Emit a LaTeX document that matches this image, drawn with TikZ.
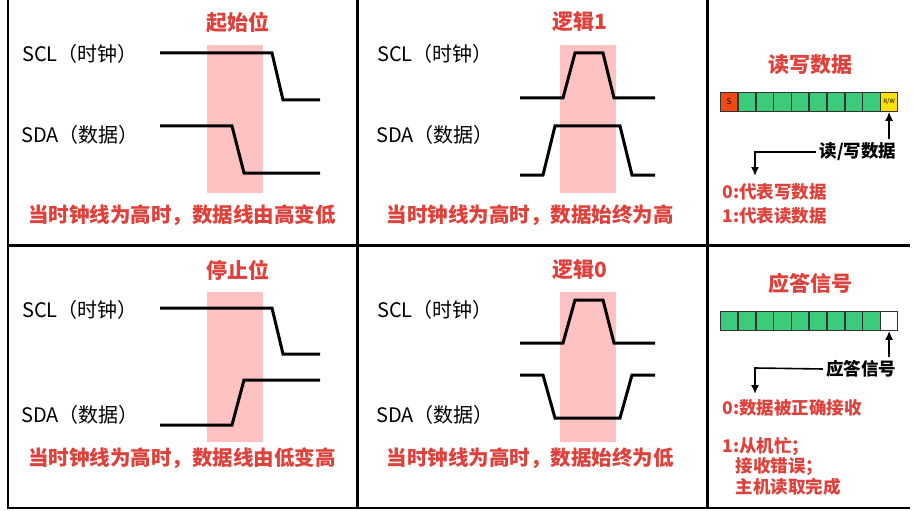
\documentclass[tikz,border=0pt]{standalone}
\usepackage{fontspec}
\setmainfont{Noto Sans CJK SC}
\usetikzlibrary{arrows.meta}
\definecolor{myred}{HTML}{E0403A}
\definecolor{mypink}{HTML}{FFC2C2}
\definecolor{mygreen}{HTML}{3CCB7A}
\definecolor{myorange}{HTML}{F04A12}
\definecolor{myyellow}{HTML}{FFE000}
\begin{document}
\begin{tikzpicture}[x=1pt,y=-1pt,
  lbl/.style={font=\fontsize{20}{20}\selectfont},
  ttl/.style={font=\fontsize{21}{21}\selectfont\bfseries, text=myred},
  captxt/.style={font=\fontsize{20.5}{20.5}\selectfont\bfseries, text=myred},
  smallred/.style={font=\fontsize{17.5}{17.5}\selectfont\bfseries, text=myred, anchor=west},
  blk/.style={font=\fontsize{17.5}{17.5}\selectfont\bfseries, anchor=east},
  sig/.style={line width=3pt, line join=miter},
  pinkbox/.style={fill=mypink, draw=none},
  cell/.style={draw=black!80, line width=0.6pt, minimum width=17.2pt, minimum height=19pt, inner sep=0pt, anchor=west},
  arr/.style={line width=1.6pt,-{Latex[length=9pt,width=8pt]}}]
\useasboundingbox (0,0) rectangle (914,511);
\fill[white] (0,0) rectangle (914,511);
% frame
\draw[line width=3pt] (357,0) -- (357,507);
\draw[line width=3pt] (707,0) -- (707,507);
\draw[line width=3pt] (8,245) -- (910,245);
\draw[line width=2pt] (8,0) -- (8,508) -- (910,508);
% panel 1
\fill[pinkbox] (207,45) rectangle (263,193);
\node[ttl] (t1) at (238,22) {起始位};
\node[lbl] (l1a) at (80,54) {SCL（时钟）};
\node[lbl] (l1b) at (80,135) {SDA（数据）};
\draw[sig] (160,53) -- (272,53) -- (283,100) -- (320,100);
\draw[sig] (160,126) -- (232,126) -- (244,173) -- (320,173);
\node[captxt] (c1) at (182,215) {当时钟线为高时，数据线由高变低};
% panel 2
\fill[pinkbox] (560,45) rectangle (616,193);
\node[ttl] (t2) at (580,22) {逻辑1};
\node[lbl] (l2a) at (435,54) {SCL（时钟）};
\node[lbl] (l2b) at (435,135) {SDA（数据）};
\draw[sig] (520,98) -- (563,98) -- (575,53) -- (603,53) -- (614,98) -- (655,98);
\draw[sig] (520,175) -- (543,175) -- (555,126) -- (620,126) -- (632,175) -- (655,175);
\node[captxt] (c2) at (530,215) {当时钟线为高时，数据始终为高};
% panel 3
\fill[pinkbox] (207,292) rectangle (263,442);
\node[ttl] (t3) at (238,270) {停止位};
\node[lbl] (l3a) at (80,310) {SCL（时钟）};
\node[lbl] (l3b) at (80,415) {SDA（数据）};
\draw[sig] (160,308) -- (272,308) -- (283,354) -- (320,354);
\draw[sig] (160,425) -- (232,425) -- (244,380) -- (320,380);
\node[captxt] (c3) at (182,458) {当时钟线为高时，数据线由低变高};
% panel 4
\fill[pinkbox] (560,292) rectangle (616,442);
\node[ttl] (t4) at (580,270) {逻辑0};
\node[lbl] (l4a) at (435,310) {SCL（时钟）};
\node[lbl] (l4b) at (435,415) {SDA（数据）};
\draw[sig] (520,343) -- (563,343) -- (575,300) -- (603,300) -- (614,343) -- (655,343);
\draw[sig] (520,375) -- (543,375) -- (555,418) -- (620,418) -- (632,375) -- (655,375);
\node[captxt] (c4) at (530,458) {当时钟线为高时，数据始终为低};
% panel 5
\node[ttl] (t5) at (810,65) {读写数据};
\node[cell, fill=myorange, font=\fontsize{8}{8}\selectfont] (a0) at (720,102) {S};
\foreach \i [remember=\i as \j (initially 0)] in {1,...,8} {
  \node[cell, fill=mygreen] (a\i) at (a\j.east) {};
}
\node[cell, fill=myyellow, font=\fontsize{6}{6}\selectfont] (a9) at (a8.east) {R/W};
\node[blk] (rw) at (900,152) {读/写数据};
\draw[arr] (a9.south |- rw.north) -- (a9.south);
\coordinate (k1) at (755,152);
\draw[arr] (rw.west) -- (k1) -- (755,176);
\node[smallred] (r0) at (719,192) {0:代表写数据};
\node[smallred] (r1) at (719,216) {1:代表读数据};
% panel 6
\node[ttl] (t6) at (810,283) {应答信号};
\node[cell, fill=mygreen] (b0) at (720,321) {};
\foreach \i [remember=\i as \j (initially 0)] in {1,...,8} {
  \node[cell, fill=mygreen] (b\i) at (b\j.east) {};
}
\node[cell, fill=white] (b9) at (b8.east) {};
\node[blk] (ack) at (900,369) {应答信号};
\draw[arr] (b9.south |- ack.north) -- (b9.south);
\coordinate (k2) at (755,368);
\draw[arr] (ack.west) -- (k2) -- (755,394);
\node[smallred] (s0) at (719,408) {0:数据被正确接收};
\node[smallred] (s1) at (719,447) {1:从机忙；};
\node[smallred] (s2) at (732,467) {接收错误；};
\node[smallred] (s3) at (732,487) {主机读取完成};
\end{tikzpicture}
\end{document}
